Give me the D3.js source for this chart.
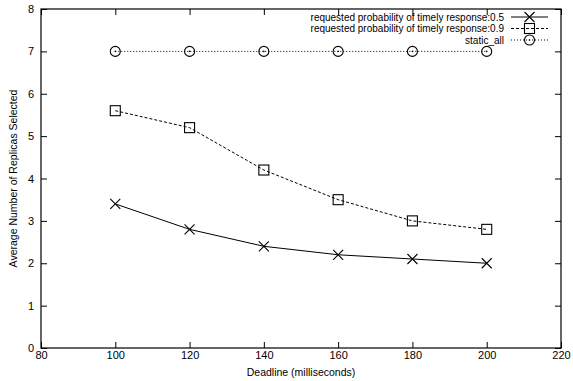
<!DOCTYPE html>
<html>
<head>
<meta charset="utf-8">
<script src="https://cdn.jsdelivr.net/npm/d3@7"></script>
<style>
  body { margin: 0; background: #fff; }
  text { font-family: "Liberation Sans", Arial, sans-serif; fill: #000; }
</style>
</head>
<body>
<div id="chart"></div>
<script>
// data
var deadlines = [100, 120, 140, 160, 180, 200];
var prob05 = [3.4, 2.8, 2.4, 2.2, 2.1, 2.0];
var prob09 = [5.6, 5.2, 4.2, 3.5, 3.0, 2.8];
var staticAll = [7, 7, 7, 7, 7, 7];
var seriesNames = ["requested probability of timely response:0.5",
                   "requested probability of timely response:0.9",
                   "static_all"];
var xTicks = [80, 100, 120, 140, 160, 180, 200, 220];
var yTicks = [0, 1, 2, 3, 4, 5, 6, 7, 8];

var width = 573, height = 381;
var margin = {top: 9, right: 12, bottom: 33, left: 41};

var svg = d3.select("#chart").append("svg")
    .attr("width", width)
    .attr("height", height);

var xScale = d3.scaleLinear().domain([80, 220]).range([margin.left, width - margin.right]);
var yScale = d3.scaleLinear().domain([0, 8]).range([height - margin.bottom, margin.top]);

// mirrored inner ticks on all four sides
function tickAxis(axis, tr) {
    var g = svg.append("g").attr("transform", tr).call(axis);
    g.select(".domain").remove();
    g.selectAll("line").attr("stroke", "#000");
    return g;
}
var tl = 6;
var bottom = tickAxis(d3.axisBottom(xScale).tickValues(xTicks).tickSize(-tl).tickPadding(3),
    "translate(0," + yScale(0) + ")");
bottom.selectAll("text").attr("font-size", 11);
tickAxis(d3.axisTop(xScale).tickValues(xTicks).tickSize(-tl).tickFormat(""),
    "translate(0," + yScale(8) + ")");
var left = tickAxis(d3.axisLeft(yScale).tickValues(yTicks).tickSize(-tl).tickPadding(7),
    "translate(" + xScale(80) + ",0)");
left.selectAll("text").attr("font-size", 11);
tickAxis(d3.axisRight(yScale).tickValues(yTicks).tickSize(-tl).tickFormat(""),
    "translate(" + xScale(220) + ",0)");

// frame
svg.append("rect")
    .attr("x", xScale(80)).attr("y", yScale(8))
    .attr("width", xScale(220) - xScale(80))
    .attr("height", yScale(0) - yScale(8))
    .attr("fill", "none").attr("stroke", "#000").attr("stroke-width", 1.2);

// axis titles
svg.append("text")
    .attr("x", (xScale(80) + xScale(220)) / 2).attr("y", 376)
    .attr("text-anchor", "middle").attr("font-size", 10.5)
    .text("Deadline (milliseconds)");
svg.append("text")
    .attr("transform", "translate(17," + (yScale(4)) + ") rotate(-90)")
    .attr("text-anchor", "middle").attr("font-size", 10.5)
    .text("Average Number of Replicas Selected");

// markers
function drawMarker(g, type, cx, cy) {
    var s = 5;
    if (type === "x") {
        g.append("path")
            .attr("d", "M" + (cx - s) + "," + (cy - s) + "L" + (cx + s) + "," + (cy + s) +
                       "M" + (cx - s) + "," + (cy + s) + "L" + (cx + s) + "," + (cy - s))
            .attr("stroke", "#000").attr("stroke-width", 1.1);
    } else if (type === "square") {
        g.append("rect")
            .attr("x", cx - s).attr("y", cy - s).attr("width", 2 * s).attr("height", 2 * s)
            .attr("fill", "none").attr("stroke", "#000").attr("stroke-width", 1.1);
    } else {
        g.append("circle").attr("cx", cx).attr("cy", cy).attr("r", s)
            .attr("fill", "none").attr("stroke", "#000").attr("stroke-width", 1.1);
        g.append("circle").attr("cx", cx).attr("cy", cy).attr("r", 0.8).attr("fill", "#000");
    }
}

var series = [
    {name: seriesNames[0], values: prob05, marker: "x", dash: null},
    {name: seriesNames[1], values: prob09, marker: "square", dash: "3,2"},
    {name: seriesNames[2], values: staticAll, marker: "circle", dash: "1,2"}
];

var line = d3.line()
    .x(function(d) { return xScale(d[0]); })
    .y(function(d) { return yScale(d[1]); });

series.forEach(function(s, i) {
    var pts = deadlines.map(function(x, j) { return [x, s.values[j]]; });
    var g = svg.append("g");
    g.append("path").datum(pts)
        .attr("d", line)
        .attr("fill", "none").attr("stroke", "#000").attr("stroke-width", 1)
        .attr("stroke-dasharray", s.dash);
    pts.forEach(function(p) { drawMarker(g, s.marker, xScale(p[0]), yScale(p[1])); });

    // legend row
    var ly = 17 + i * 11.5;
    var lg = svg.append("g");
    lg.append("text")
        .attr("x", 504).attr("y", ly + 3.5)
        .attr("text-anchor", "end").attr("font-size", 10)
        .text(s.name);
    lg.append("line")
        .attr("x1", 511).attr("x2", 548).attr("y1", ly).attr("y2", ly)
        .attr("stroke", "#000").attr("stroke-width", 1)
        .attr("stroke-dasharray", s.dash);
    drawMarker(lg, s.marker, 529.5, ly);
});
</script>
</body>
</html>
